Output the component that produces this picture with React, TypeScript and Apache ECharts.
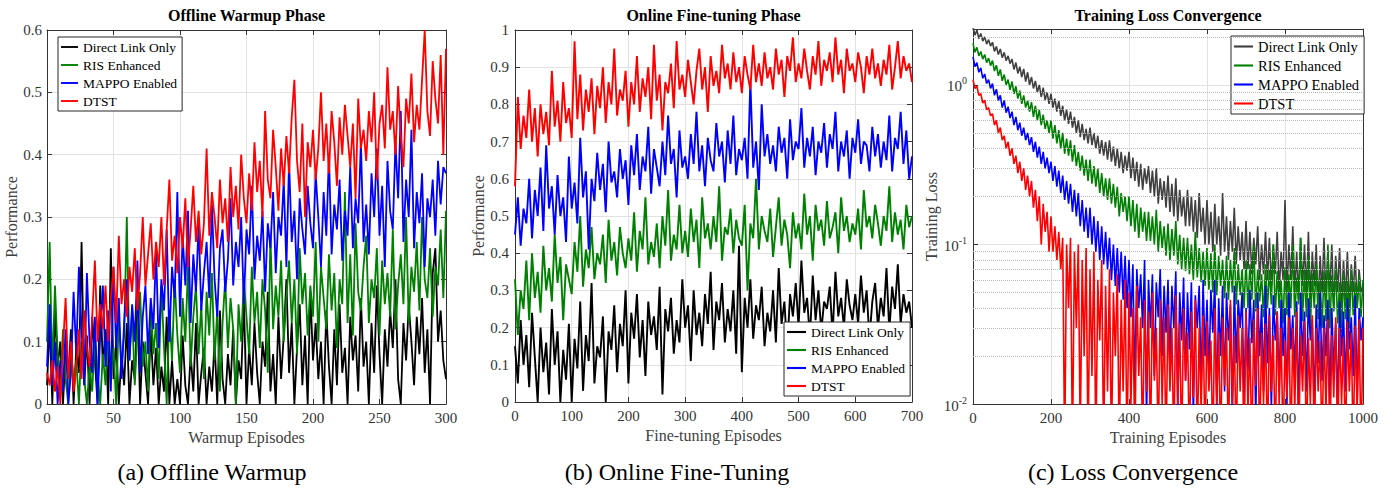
import React, { useEffect, useRef } from 'react';
import * as echarts from 'echarts';

const FONT = '"Liberation Serif", "Times New Roman", serif';
const SERIES_NAMES = ['Direct Link Only', 'RIS Enhanced', 'MAPPO Enabled', 'DTST'];
const COLORS_AB = ['#000000', '#008000', '#0000FF', '#FF0000'];
const COLORS_C = ['#404040', '#008000', '#0000FF', '#FF0000'];

// ---------- Panel (a): Offline warmup, episodes 0..300, one value every 2 episodes
const warmupStep = 2;
const warmupDirect = [
  .03, .13, .0, .15, .06, .1, .0, .08, .04, .12,
  .0, .09, .05, .26, .03, .11, .0, .14, .07, .0,
  .19, .06, .12, .0, .25, .04, .1, .0, .08, .03,
  .13, .0, .07, .04, .16, .0, .1, .05, .0, .12,
  .03, .09, .0, .06, .02, .14, .0, .07, .0, .04,
  .0, .11, .03, .0, .08, .02, .13, .0, .05, .09,
  .0, .06, .02, .1, .0, .15, .04, .0, .08, .03,
  .12, .0, .07, .04, .17, .0, .09, .03, .13, .05,
  .0, .1, .06, .18, .02, .08, .0, .14, .04, .11,
  .2, .05, .13, .0, .09, .16, .03, .11, .0, .18,
  .07, .13, .04, .1, .0, .15, .06, .0, .12, .03,
  .16, .05, .09, .0, .14, .07, .11, .02, .17, .06,
  .1, .0, .13, .05, .19, .08, .0, .12, .06, .15,
  .09, .2, .04, .0, .13, .07, .16, .1, .03, .14,
  .08, .17, .05, .12, .0, .21, .25, .1, .15, .07,
  .04,
];
const warmupRIS = [
  .1, .26, .05, .19, .08, .02, .12, .04, .0, .09,
  .03, .07, .0, .1, .04, .0, .06, .02, .11, .05,
  .0, .08, .03, .12, .05, .09, .0, .14, .06, .11,
  .3, .07, .15, .03, .12, .18, .06, .1, .02, .16,
  .08, .13, .04, .19, .09, .0, .15, .07, .2, .11,
  .05, .17, .1, .22, .06, .14, .19, .08, .16, .04,
  .18, .11, .21, .07, .15, .02, .13, .2, .09, .17,
  .12, .0, .16, .1, .2, .14, .08, .22, .13, .18,
  .09, .2, .15, .05, .27, .12, .19, .14, .23, .1,
  .17, .23, .13, .2, .08, .25, .16, .21, .11, .19,
  .14, .26, .1, .22, .17, .12, .24, .15, .21, .09,
  .2, .16, .34, .13, .24, .11, .29, .18, .15, .22,
  .27, .13, .2, .17, .25, .11, .23, .16, .21, .14,
  .28, .12, .19, .24, .16, .3, .13, .22, .18, .26,
  .15, .3, .2, .17, .25, .14, .22, .19, .28, .17,
  .31,
];
const warmupMAPPO = [
  .06, .16, .03, .1, .0, .07, .02, .12, .0, .05,
  .18, .08, .22, .12, .03, .21, .1, .05, .14, .0,
  .11, .19, .06, .15, .02, .22, .09, .17, .04, .13,
  .2, .07, .16, .1, .23, .05, .14, .19, .08, .17,
  .12, .25, .09, .2, .15, .28, .1, .22, .17, .34,
  .14, .27, .19, .31, .13, .24, .18, .29, .15, .21,
  .26, .17, .32, .2, .14, .25, .28, .18, .23, .33,
  .19, .26, .22, .3, .16, .28, .24, .35, .2, .27,
  .23, .31, .18, .29, .25, .34, .21, .3, .27, .36,
  .22, .39, .26, .31, .2, .33, .28, .24, .35, .29,
  .25, .37, .3, .22, .34, .27, .4, .24, .32, .28,
  .36, .23, .31, .27, .38, .25, .33, .29, .42, .26,
  .32, .24, .37, .3, .41, .27, .35, .22, .39, .31,
  .28, .42, .33, .47, .26, .36, .3, .44, .25, .34,
  .29, .37, .22, .33, .3, .36, .27, .39, .32, .38,
  .37,
];
const warmupDTST = [
  .05, .03, .07, .02, .06, .0, .09, .17, .04, .1,
  .02, .06, .12, .04, .15, .09, .06, .14, .23, .1,
  .16, .12, .19, .1, .17, .22, .13, .27, .16, .2,
  .14, .22, .18, .25, .15, .21, .3, .19, .24, .29,
  .2, .26, .22, .3, .19, .28, .36, .23, .27, .21,
  .3, .25, .33, .22, .28, .35, .26, .31, .24, .29,
  .41, .27, .34, .3, .25, .36, .29, .33, .26, .38,
  .3, .35, .28, .4, .33, .29, .37, .31, .42, .34,
  .39, .3, .47, .36, .33, .44, .38, .31, .41, .35,
  .43, .37, .46, .52, .39, .34, .45, .3, .42, .38,
  .44, .36, .41, .5, .39, .45, .37, .47, .42, .35,
  .46, .4, .48, .43, .38, .45, .33, .49, .41, .44,
  .39, .47, .42, .5, .36, .45, .48, .41, .54, .44,
  .47, .4, .51, .43, .38, .49, .45, .53, .42, .48,
  .44, .52, .6, .47, .43, .55, .49, .45, .56, .4,
  .57,
];

// ---------- Panel (b): Online fine-tuning, episodes 0..700, one value every 5 episodes
const ftStep = 5;
const ftDirect = [
  .15, .05, .22, .1, .18, .04, .24, .12, .0, .2,
  .08, .16, .02, .25, .1, .19, .0, .14, .06, .21,
  .0, .17, .09, .27, .03, .18, .11, .32, .05, .15,
  .12, .23, .0, .19, .14, .26, .08, .21, .15, .3,
  .05, .24, .17, .29, .12, .22, .07, .27, .18, .23,
  .14, .31, .02, .25, .19, .28, .13, .22, .16, .33,
  .2, .26, .11, .3, .18, .24, .15, .29, .21, .35,
  .14, .27, .22, .32, .16, .25, .19, .3, .13, .42,
  .08, .28, .2, .33, .17, .26, .22, .31, .15, .24,
  .19, .3, .16, .36, .21, .27, .14, .29, .23, .32,
  .2, .38, .24, .28, .17, .34, .22, .3, .19, .27,
  .25, .31, .18, .35, .23, .28, .2, .33, .26, .22,
  .29, .21, .34, .24, .3, .17, .27, .32, .2, .28,
  .23, .36, .19, .31, .25, .37, .21, .29, .24, .27,
  .2,
];
const ftRIS = [
  .33, .18, .3, .25, .38, .22, .4, .28, .35, .24,
  .42, .3, .36, .27, .45, .32, .39, .22, .37, .33,
  .29, .43, .35, .5, .31, .41, .36, .47, .33, .4,
  .37, .45, .32, .49, .38, .43, .34, .47, .4, .36,
  .44, .38, .51, .35, .46, .41, .55, .37, .43, .39,
  .48, .36, .5, .42, .57, .38, .45, .41, .53, .4,
  .46, .39, .52, .43, .49, .36, .55, .44, .48, .41,
  .5, .43, .58, .38, .47, .45, .52, .4, .49, .44,
  .42, .53, .3, .48, .44, .6, .41, .5, .46, .43,
  .52, .39, .47, .55, .42, .49, .45, .36, .51, .44,
  .48, .41, .56, .45, .5, .38, .53, .46, .49, .42,
  .54, .44, .47, .51, .4, .55, .46, .5, .43, .48,
  .45, .52, .41, .57, .47, .5, .44, .53, .48, .42,
  .5, .46, .58, .43, .51, .45, .49, .41, .53, .47,
  .5,
];
const ftMAPPO = [
  .45, .55, .42, .52, .48, .6, .44, .57, .5, .63,
  .46, .69, .52, .58, .45, .61, .5, .55, .43, .66,
  .52, .59, .48, .71, .55, .62, .41, .6, .54, .67,
  .57, .64, .51, .7, .59, .62, .55, .68, .6, .65,
  .53, .69, .61, .72, .57, .66, .62, .74, .56, .68,
  .63, .58, .7, .61, .77, .64, .68, .55, .73, .63,
  .66, .6, .72, .64, .78, .62, .69, .58, .71, .65,
  .62, .75, .66, .7, .59, .73, .64, .77, .61, .68,
  .65, .71, .6, .86, .63, .7, .57, .8, .66, .72,
  .64, .69, .62, .74, .67, .71, .6, .76, .65, .7,
  .68, .79, .63, .71, .66, .74, .61, .7, .67, .75,
  .63, .72, .68, .78, .62, .7, .66, .73, .6, .71,
  .67, .76, .64, .7, .69, .62, .74, .66, .72, .63,
  .7, .65, .77, .62, .71, .68, .78, .64, .73, .6,
  .66,
];
const ftDTST = [
  .58, .82, .68, .77, .71, .84, .7, .79, .66, .8,
  .72, .78, .69, .89, .74, .81, .7, .86, .75, .79,
  .71, .97, .76, .88, .73, .84, .78, .87, .72, .85,
  .79, .9, .75, .86, .8, .95, .77, .84, .81, .89,
  .74, .86, .8, .93, .78, .87, .82, .9, .76, .96,
  .81, .88, .73, .86, .83, .91, .79, .97, .84, .88,
  .82, .92, .86, .8, .89, .95, .84, .9, .78, .93,
  .85, .89, .83, .96, .87, .91, .84, .94, .86, .9,
  .83, .93, .88, .84, .96, .86, .91, .85, .94, .87,
  .9, .84, .95, .88, .92, .82, .93, .89, .98, .86,
  .91, .87, .95, .89, .84, .93, .88, .97, .85, .92,
  .89, .94, .86, .98, .88, .92, .83, .95, .89, .91,
  .86, .94, .9, .83, .93, .88, .95, .87, .91, .85,
  .92, .88, .96, .84, .9, .97, .87, .93, .89, .91,
  .86,
];

// ---------- Panel (c): Training loss, episodes 0..1000, one value every 5 episodes
const lossStep = 5;
const lossDirect = [
  2.3, 2.05, 2.2, 1.95, 2.1, 1.88, 2.0, 1.8, 1.92, 1.75,
  1.85, 1.62, 1.74, 1.55, 1.68, 1.48, 1.6, 1.42, 1.52, 1.36,
  1.45, 1.25, 1.38, 1.18, 1.3, 1.12, 1.26, 1.05, 1.2, 1.0,
  1.12, .95, 1.06, .9, 1.0, .84, .96, .8, .9, .76,
  .88, .72, .82, .68, .79, .64, .74, .6, .7, .57,
  .68, .54, .63, .5, .6, .47, .57, .45, .53, .43,
  .54, .42, .5, .4, .48, .37, .45, .36, .44, .34,
  .45, .33, .41, .31, .4, .3, .38, .28, .36, .29,
  .38, .26, .35, .25, .33, .23, .32, .22, .3, .24,
  .31, .21, .29, .2, .3, .18, .26, .19, .25, .17,
  .27, .16, .24, .15, .26, .14, .22, .15, .2, .13,
  .22, .13, .2, .12, .19, .11, .21, .12, .17, .1,
  .19, .1, .16, .09, .18, .1, .15, .085, .21, .09,
  .15, .08, .14, .09, .17, .075, .13, .08, .12, .07,
  .14, .07, .12, .065, .11, .075, .13, .06, .1, .065,
  .12, .06, .11, .055, .1, .065, .12, .05, .09, .06,
  .19, .05, .1, .06, .13, .05, .09, .045, .11, .055,
  .1, .05, .12, .045, .09, .055, .1, .04, .085, .05,
  .11, .045, .09, .05, .1, .04, .085, .05, .095, .04,
  .08, .045, .09, .04, .075, .05, .085, .04, .07, .05,
  .055,
];
const lossRIS = [
  1.82, 1.6, 1.72, 1.52, 1.62, 1.45, 1.55, 1.38, 1.47, 1.32,
  1.42, 1.22, 1.33, 1.14, 1.25, 1.06, 1.16, 1.0, 1.08, .93,
  1.05, .88, .98, .82, .92, .76, .86, .72, .8, .68,
  .78, .63, .74, .6, .7, .56, .65, .53, .6, .5,
  .6, .46, .56, .43, .52, .4, .5, .37, .46, .36,
  .45, .33, .42, .31, .38, .29, .36, .27, .34, .25,
  .34, .24, .31, .23, .3, .21, .28, .2, .26, .19,
  .26, .18, .24, .17, .23, .15, .21, .16, .2, .14,
  .2, .13, .19, .12, .18, .11, .17, .12, .16, .105,
  .16, .105, .15, .1, .165, .09, .14, .095, .13, .085,
  .135, .08, .125, .085, .14, .075, .115, .07, .11, .068,
  .11, .065, .1, .06, .12, .062, .095, .058, .09, .055,
  .095, .052, .088, .05, .1, .048, .085, .055, .08, .046,
  .085, .045, .08, .05, .095, .042, .075, .048, .07, .04,
  .08, .04, .075, .045, .1, .038, .07, .044, .065, .035,
  .075, .04, .07, .042, .1, .036, .068, .04, .06, .032,
  .072, .036, .065, .04, .1, .035, .062, .042, .11, .033,
  .07, .035, .085, .03, .066, .04, .075, .034, .062, .03,
  .068, .033, .1, .03, .064, .038, .072, .032, .058, .028,
  .066, .034, .06, .03, .07, .036, .058, .04, .065, .035,
  .06,
];
const lossMAPPO = [
  1.5, 1.3, 1.38, 1.2, 1.28, 1.1, 1.17, 1.02, 1.08, .95,
  1.02, .86, .94, .8, .86, .72, .8, .67, .73, .62,
  .68, .56, .63, .52, .58, .48, .54, .45, .5, .42,
  .47, .38, .44, .35, .41, .32, .38, .3, .35, .28,
  .33, .25, .31, .23, .29, .21, .27, .19, .25, .18,
  .24, .16, .22, .15, .21, .13, .19, .12, .17, .11,
  .17, .1, .15, .09, .14, .08, .13, .075, .12, .07,
  .11, .06, .1, .055, .095, .05, .09, .045, .085, .04,
  .08, .035, .075, .012, .07, .04, .065, .03, .08, .008,
  .06, .03, .065, .015, .058, .035, .07, .02, .055, .028,
  .06, .018, .055, .03, .068, .009, .05, .025, .062, .014,
  .05, .022, .058, .008, .048, .03, .055, .012, .06, .02,
  .045, .015, .052, .028, .06, .009, .046, .02, .055, .012,
  .05, .025, .042, .008, .055, .018, .045, .03, .05, .01,
  .04, .016, .052, .024, .045, .008, .05, .02, .042, .012,
  .055, .018, .04, .009, .048, .025, .038, .012, .045, .02,
  .04, .01, .05, .022, .036, .015, .044, .008, .05, .02,
  .038, .012, .046, .025, .034, .009, .042, .018, .05, .014,
  .036, .02, .045, .01, .04, .016, .032, .009, .044, .02,
  .038, .012, .046, .022, .035, .015, .048, .01, .04, .025,
  .035,
];
const lossDTST = [
  1.08, .95, .98, .86, .88, .77, .8, .7, .72, .64,
  .66, .56, .6, .5, .54, .45, .48, .4, .44, .36,
  .4, .32, .36, .28, .33, .25, .3, .22, .27, .2,
  .25, .17, .22, .14, .2, .1, .18, .12, .16, .09,
  .15, .09, .13, .08, .12, .07, .11, .005, .1, .04,
  .11, .005, .09, .03, .1, .006, .08, .02, .095, .005,
  .07, .015, .09, .005, .06, .025, .08, .005, .055, .012,
  .07, .005, .05, .02, .065, .005, .045, .012, .06, .005,
  .05, .01, .04, .005, .055, .015, .035, .005, .045, .012,
  .038, .005, .05, .014, .03, .005, .045, .01, .035, .005,
  .042, .012, .03, .005, .048, .01, .032, .005, .04, .014,
  .028, .005, .038, .011, .045, .005, .03, .009, .036, .005,
  .033, .012, .025, .005, .04, .01, .028, .005, .035, .013,
  .03, .005, .045, .01, .027, .005, .036, .012, .03, .005,
  .038, .009, .026, .005, .034, .013, .04, .005, .028, .01,
  .032, .005, .036, .012, .027, .005, .038, .01, .03, .005,
  .025, .011, .035, .005, .03, .009, .038, .005, .027, .012,
  .033, .005, .026, .01, .036, .005, .03, .012, .025, .005,
  .03, .009, .034, .005, .027, .011, .035, .005, .03, .01,
  .026, .005, .033, .012, .028, .005, .031, .009, .034, .005,
  .03,
];
const lossMinorGrid = [0.02, 0.03, 0.04, 0.05, 0.06, 0.07, 0.08, 0.09, 0.2, 0.3, 0.4, 0.5, 0.6, 0.7, 0.8, 0.9, 2];

// ---------- Texts
const panelTitles = ['Offline Warmup Phase', 'Online Fine-tuning Phase', 'Training Loss Convergence'];
const panelCaptions = ['(a) Offline Warmup', '(b) Online Fine-Tuning', '(c) Loss Convergence'];
const xNames = ['Warmup Episodes', 'Fine-tuning Episodes', 'Training Episodes'];
const yNames = ['Performance', 'Performance', 'Training Loss'];

const AXIS_COLOR = '#333333';
const LABEL_COLOR = '#333333';
const GRID_COLOR = '#e2e2e2';
// thin horizontal bar used as legend line sample (aspect kept by the legend)
const LEGEND_LINE_ICON = 'path://M0,0L90,0L90,10L0,10Z';

const pairs = (step: number, vals: number[]) => vals.map((v, i) => [i * step, v]);
const plainNum = (v: number) => String(Math.round(v * 1000) / 1000);

function makeSeries(vals: number[][], step: number, axisIdx: number, colors: string[], width: number) {
  return vals.map((v, k) => ({
    type: 'line',
    name: SERIES_NAMES[k],
    xAxisIndex: axisIdx,
    yAxisIndex: axisIdx,
    data: pairs(step, v),
    symbol: 'none',
    showSymbol: false,
    clip: true,
    silent: true,
    z: 3 + k,
    lineStyle: { color: colors[k], width },
    itemStyle: { color: colors[k] },
  }));
}

function bottomX(grid: number, max: number, interval: number, name: string, nameGap: number) {
  return {
    type: 'value', gridIndex: grid, min: 0, max, interval,
    name, nameLocation: 'middle', nameGap,
    nameTextStyle: { fontFamily: FONT, fontSize: 16, color: '#404040' },
    axisLine: { show: true, onZero: false, lineStyle: { color: AXIS_COLOR, width: 1 } },
    axisTick: { show: true, inside: true, length: 5, lineStyle: { color: AXIS_COLOR } },
    axisLabel: { fontFamily: FONT, fontSize: 15, color: LABEL_COLOR, margin: 6, formatter: plainNum },
    splitLine: { show: true, lineStyle: { color: GRID_COLOR, width: 1 } },
  };
}
function topX(grid: number, max: number, interval: number) {
  return {
    type: 'value', gridIndex: grid, position: 'top', min: 0, max, interval,
    axisLine: { show: true, onZero: false, lineStyle: { color: AXIS_COLOR, width: 1 } },
    axisTick: { show: true, inside: true, length: 5, lineStyle: { color: AXIS_COLOR } },
    axisLabel: { show: false },
    splitLine: { show: false },
  };
}
function leftY(grid: number, max: number, interval: number, name: string, nameGap: number, margin: number) {
  return {
    type: 'value', gridIndex: grid, min: 0, max, interval,
    name, nameLocation: 'middle', nameGap,
    nameTextStyle: { fontFamily: FONT, fontSize: 16, color: '#404040' },
    axisLine: { show: true, onZero: false, lineStyle: { color: AXIS_COLOR, width: 1 } },
    axisTick: { show: true, inside: true, length: 5, lineStyle: { color: AXIS_COLOR } },
    axisLabel: { fontFamily: FONT, fontSize: 15, color: LABEL_COLOR, margin, formatter: plainNum },
    splitLine: { show: true, lineStyle: { color: GRID_COLOR, width: 1 } },
  };
}
function rightY(grid: number, max: number, interval: number) {
  return {
    type: 'value', gridIndex: grid, position: 'right', min: 0, max, interval,
    axisLine: { show: true, onZero: false, lineStyle: { color: AXIS_COLOR, width: 1 } },
    axisTick: { show: true, inside: true, length: 5, lineStyle: { color: AXIS_COLOR } },
    axisLabel: { show: false },
    splitLine: { show: false },
  };
}

function legendFor(left: number, top: number, fontSize: number, itemWidth: number, itemHeight: number, colors: string[]) {
  return {
    show: true,
    orient: 'vertical',
    left, top,
    itemWidth, itemHeight, itemGap: 4,
    padding: [3, 5, 3, 3],
    borderColor: '#262626', borderWidth: 1,
    backgroundColor: '#ffffff',
    selectedMode: false,
    symbolKeepAspect: true,
    icon: LEGEND_LINE_ICON,
    textStyle: { fontFamily: FONT, fontSize, color: '#000' },
    data: SERIES_NAMES.map((n, k) => ({
      name: n,
      icon: LEGEND_LINE_ICON,
      itemStyle: { color: colors[k], borderWidth: 0 },
    })),
  };
}

const option: any = {
  animation: false,
  backgroundColor: '#ffffff',
  grid: [
    { left: 47, top: 30, width: 399, height: 374 },
    { left: 515, top: 30, width: 397, height: 372 },
    { left: 973, top: 29, width: 390, height: 375 },
  ],
  xAxis: [
    bottomX(0, 300, 50, xNames[0], 22),
    topX(0, 300, 50),
    bottomX(1, 700, 100, xNames[1], 24),
    topX(1, 700, 100),
    bottomX(2, 1000, 200, xNames[2], 22),
    topX(2, 1000, 200),
  ],
  yAxis: [
    leftY(0, 0.6, 0.1, yNames[0], 23, 5),
    rightY(0, 0.6, 0.1),
    leftY(1, 1, 0.1, yNames[1], 27, 6),
    rightY(1, 1, 0.1),
    {
      type: 'log', logBase: 10, gridIndex: 2, min: 0.01, max: 2.24,
      name: yNames[2], nameLocation: 'middle', nameGap: 30,
      nameTextStyle: { fontFamily: FONT, fontSize: 16, color: '#404040' },
      axisLine: { show: true, onZero: false, lineStyle: { color: AXIS_COLOR, width: 1 } },
      axisTick: { show: true, inside: true, length: 5, lineStyle: { color: AXIS_COLOR } },
      axisLabel: {
        margin: 6,
        showMaxLabel: false,
        formatter: (v: number) => `{b|10}{s|${Math.round(Math.log10(v))}}`,
        rich: {
          b: { fontFamily: FONT, fontSize: 15, color: LABEL_COLOR, verticalAlign: 'bottom' },
          s: { fontFamily: FONT, fontSize: 10, color: LABEL_COLOR, verticalAlign: 'bottom', padding: [0, 0, 8, 0] },
        },
      },
      splitLine: { show: true, lineStyle: { color: GRID_COLOR, width: 1 } },
    },
    {
      type: 'log', logBase: 10, gridIndex: 2, position: 'right', min: 0.01, max: 2.24,
      axisLine: { show: true, onZero: false, lineStyle: { color: AXIS_COLOR, width: 1 } },
      axisTick: { show: true, inside: true, length: 5, lineStyle: { color: AXIS_COLOR } },
      axisLabel: { show: false },
      splitLine: { show: false },
    },
  ],
  legend: [
    legendFor(58, 37, 13.5, 17, 14, COLORS_AB),
    legendFor(784, 322, 13.5, 19, 14, COLORS_AB),
    legendFor(1231, 36, 14.5, 19, 16, COLORS_C),
  ],
  series: [
    ...makeSeries([warmupDirect, warmupRIS, warmupMAPPO, warmupDTST], warmupStep, 0, COLORS_AB, 1.8),
    ...makeSeries([ftDirect, ftRIS, ftMAPPO, ftDTST], ftStep, 2, COLORS_AB, 1.9),
    {
      type: 'line', name: 'minor-grid', xAxisIndex: 4, yAxisIndex: 4, data: [], z: 1, silent: true,
      markLine: {
        silent: true, symbol: ['none', 'none'], label: { show: false },
        lineStyle: { type: 'dotted', color: '#b8b8b8', width: 1 },
        data: lossMinorGrid.map((v) => ({ yAxis: v })),
      },
    },
    ...makeSeries([lossDirect, lossRIS, lossMAPPO, lossDTST], lossStep, 4, COLORS_C, 1.6),
  ],
  graphic: [
    ...panelTitles.map((t, i) => ({
      type: 'text', x: [246.5, 713.5, 1168][i], y: 15, silent: true,
      style: { text: t, fontFamily: FONT, fontSize: 16, fontWeight: 'bold', fill: '#000', align: 'center', verticalAlign: 'middle' },
    })),
    ...panelCaptions.map((t, i) => ({
      type: 'text', x: [212, 677, 1133][i], y: 472, silent: true,
      style: { text: t, fontFamily: FONT, fontSize: 24, fill: '#000', align: 'center', verticalAlign: 'middle' },
    })),
  ],
};

export default function App() {
  const ref = useRef<HTMLDivElement>(null);
  useEffect(() => {
    if (!ref.current) return;
    const chart = echarts.init(ref.current, undefined, { renderer: 'svg' });
    chart.setOption(option);
    return () => chart.dispose();
  }, []);
  return (
    <div
      ref={ref}
      style={{ position: 'absolute', left: 0, top: 0, width: 1400, height: 491, background: '#ffffff' }}
    />
  );
}
